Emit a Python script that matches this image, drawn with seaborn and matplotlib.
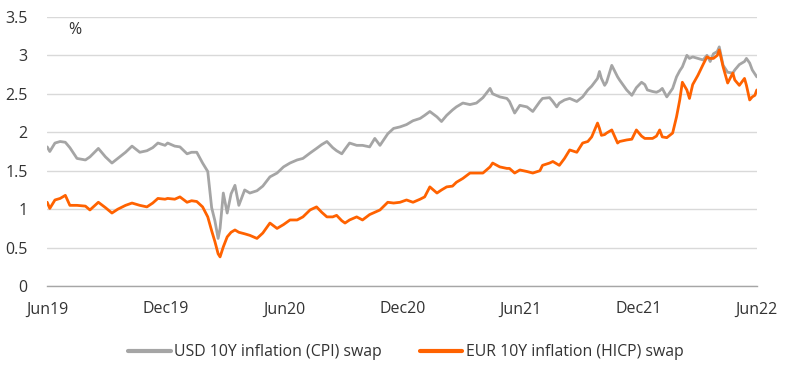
import matplotlib
matplotlib.use("Agg")
import matplotlib.pyplot as plt
import seaborn as sns
import pandas as pd
from matplotlib.lines import Line2D

dates = [
    "2019-06-01", "2019-06-05", "2019-06-13", "2019-06-21", "2019-06-29", "2019-07-06",
    "2019-07-17", "2019-07-30", "2019-08-06", "2019-08-19", "2019-08-30", "2019-09-09",
    "2019-09-18", "2019-09-30", "2019-10-10", "2019-10-22", "2019-11-02", "2019-11-11",
    "2019-11-19", "2019-11-30", "2019-12-04", "2019-12-15", "2019-12-23", "2020-01-03",
    "2020-01-10", "2020-01-18", "2020-01-27", "2020-02-04", "2020-02-10", "2020-02-15",
    "2020-02-20", "2020-02-23", "2020-02-28", "2020-03-05", "2020-03-11", "2020-03-17",
    "2020-03-23", "2020-04-01", "2020-04-09", "2020-04-20", "2020-04-29", "2020-05-10",
    "2020-05-21", "2020-05-31", "2020-06-10", "2020-06-21", "2020-06-30", "2020-07-11",
    "2020-07-21", "2020-07-29", "2020-08-06", "2020-08-15", "2020-08-21", "2020-08-29",
    "2020-09-03", "2020-09-10", "2020-09-21", "2020-09-30", "2020-10-11", "2020-10-19",
    "2020-10-27", "2020-11-08", "2020-11-17", "2020-11-27", "2020-12-07", "2020-12-17",
    "2020-12-28", "2021-01-04", "2021-01-12", "2021-01-23", "2021-01-30", "2021-02-07",
    "2021-02-16", "2021-02-22", "2021-03-04", "2021-03-15", "2021-03-25", "2021-04-04",
    "2021-04-15", "2021-04-19", "2021-04-30", "2021-05-11", "2021-05-15", "2021-05-23",
    "2021-05-31", "2021-06-11", "2021-06-20", "2021-07-01", "2021-07-05", "2021-07-16",
    "2021-07-21", "2021-07-27", "2021-07-31", "2021-08-08", "2021-08-16", "2021-08-27",
    "2021-09-05", "2021-09-13", "2021-09-19", "2021-09-28", "2021-10-01", "2021-10-04",
    "2021-10-09", "2021-10-12", "2021-10-20", "2021-10-29", "2021-11-01", "2021-11-12",
    "2021-11-20", "2021-11-27", "2021-12-05", "2021-12-10", "2021-12-14", "2021-12-22",
    "2021-12-28", "2022-01-02", "2022-01-06", "2022-01-13", "2022-01-22", "2022-01-28",
    "2022-02-02", "2022-02-06", "2022-02-13", "2022-02-17", "2022-02-22", "2022-03-02",
    "2022-03-10", "2022-03-16", "2022-03-21", "2022-03-26", "2022-04-01", "2022-04-04",
    "2022-04-10", "2022-04-17", "2022-04-25", "2022-04-28", "2022-05-05", "2022-05-13",
    "2022-05-16", "2022-05-21", "2022-05-25", "2022-05-29", "2022-06-01",
]

usd_swap = [
    1.81, 1.75, 1.86, 1.88, 1.87, 1.80,
    1.66, 1.64, 1.68, 1.79, 1.68, 1.60,
    1.66, 1.74, 1.82, 1.74, 1.76, 1.80,
    1.86, 1.83, 1.86, 1.82, 1.81, 1.72,
    1.74, 1.74, 1.60, 1.49, 1.02, 0.85,
    0.62, 0.75, 1.21, 0.95, 1.20, 1.31,
    1.05, 1.25, 1.21, 1.24, 1.30, 1.42,
    1.47, 1.55, 1.60, 1.64, 1.66, 1.73,
    1.79, 1.84, 1.88, 1.80, 1.76, 1.72,
    1.78, 1.86, 1.83, 1.83, 1.81, 1.92,
    1.83, 1.98, 2.05, 2.07, 2.10, 2.15,
    2.18, 2.22, 2.27, 2.20, 2.14, 2.22,
    2.29, 2.33, 2.38, 2.36, 2.38, 2.45,
    2.57, 2.50, 2.46, 2.44, 2.40, 2.25,
    2.35, 2.33, 2.27, 2.40, 2.44, 2.45,
    2.40, 2.33, 2.38, 2.42, 2.44, 2.40,
    2.46, 2.55, 2.60, 2.70, 2.79, 2.70,
    2.61, 2.65, 2.87, 2.72, 2.68, 2.55,
    2.48, 2.58, 2.65, 2.62, 2.55, 2.53,
    2.52, 2.54, 2.57, 2.46, 2.57, 2.72,
    2.80, 2.85, 3.00, 2.96, 2.98, 2.96,
    2.94, 3.00, 2.92, 3.02, 3.05, 3.11,
    2.87, 2.78, 2.77, 2.81, 2.88, 2.92,
    2.96, 2.90, 2.81, 2.76, 2.72,
]

eur_swap = [
    1.09, 1.01, 1.12, 1.14, 1.18, 1.05,
    1.05, 1.04, 0.99, 1.09, 1.02, 0.95,
    1.00, 1.05, 1.08, 1.05, 1.03, 1.08,
    1.14, 1.13, 1.14, 1.13, 1.16, 1.09,
    1.11, 1.10, 1.03, 0.90, 0.72, 0.58,
    0.42, 0.38, 0.51, 0.64, 0.70, 0.73,
    0.70, 0.68, 0.66, 0.62, 0.69, 0.82,
    0.75, 0.80, 0.86, 0.86, 0.90, 0.99,
    1.03, 0.96, 0.90, 0.90, 0.92, 0.85,
    0.82, 0.86, 0.90, 0.86, 0.93, 0.96,
    0.99, 1.09, 1.08, 1.09, 1.12, 1.09,
    1.13, 1.16, 1.29, 1.21, 1.25, 1.29,
    1.30, 1.35, 1.40, 1.47, 1.47, 1.47,
    1.55, 1.60, 1.55, 1.53, 1.53, 1.47,
    1.51, 1.49, 1.47, 1.50, 1.57, 1.60,
    1.62, 1.59, 1.57, 1.66, 1.77, 1.74,
    1.86, 1.88, 1.94, 2.12, 2.05, 1.96,
    1.97, 1.99, 2.03, 1.86, 1.88, 1.90,
    1.91, 2.03, 1.95, 1.92, 1.92, 1.92,
    1.95, 2.03, 1.94, 1.93, 1.99, 2.20,
    2.42, 2.65, 2.55, 2.44, 2.62, 2.74,
    2.88, 2.98, 2.96, 2.96, 3.00, 3.07,
    2.85, 2.64, 2.77, 2.68, 2.61, 2.70,
    2.61, 2.42, 2.46, 2.48, 2.55,
]

series_names = ["USD 10Y inflation (CPI) swap", "EUR 10Y inflation (HICP) swap"]
series_colors = ["#A5A5A5", "#FF6200"]
y_ticks = [0, 0.5, 1, 1.5, 2, 2.5, 3, 3.5]
y_tick_labels = ["0", "0.5", "1", "1.5", "2", "2.5", "3", "3.5"]
x_ticks = ["2019-06-01", "2019-12-01", "2020-06-01", "2020-12-01",
           "2021-06-01", "2021-12-01", "2022-06-01"]
x_tick_labels = ["Jun19", "Dec19", "Jun20", "Dec20", "Jun21", "Dec21", "Jun22"]

df = pd.DataFrame({
    "date": pd.to_datetime(dates * 2),
    "value": usd_swap + eur_swap,
    "series": [series_names[0]] * len(dates) + [series_names[1]] * len(dates),
})

sns.set_style("white")
plt.rcParams["font.family"] = ["Open Sans", "DejaVu Sans"]

fig = plt.figure(figsize=(8, 3.75), dpi=100)
ax = fig.add_axes([0.059, 0.237, 0.887, 0.718])

sns.lineplot(data=df, x="date", y="value", hue="series",
             palette=dict(zip(series_names, series_colors)),
             linewidth=2.0, ax=ax, legend=False)

ax.set_ylim(0, 3.5)
ax.set_xlim(pd.Timestamp(x_ticks[0]), pd.Timestamp(x_ticks[-1]))
ax.set_yticks(y_ticks)
ax.set_yticklabels(y_tick_labels)
ax.set_xticks(pd.to_datetime(x_ticks))
ax.set_xticklabels(x_tick_labels)
ax.set_xlabel("")
ax.set_ylabel("")

ax.grid(axis="y", color="#D9D9D9", linewidth=1.0)
ax.set_axisbelow(True)
for s in ["top", "right", "left"]:
    ax.spines[s].set_visible(False)
ax.spines["bottom"].set_color("#A6A6A6")
ax.spines["bottom"].set_linewidth(1.0)

ax.tick_params(axis="y", length=0, pad=14, labelsize=11.5, labelcolor="#333333")
ax.tick_params(axis="x", length=5, width=1, color="#A6A6A6", direction="out",
               pad=6, labelsize=11.5, labelcolor="#333333")

ax.text(0.029, 0.95, "%", transform=ax.transAxes, fontsize=11.5,
        color="#333333", va="center", ha="left")

handles = [Line2D([0], [0], color=c, linewidth=3) for c in series_colors]
fig.legend(handles, series_names, loc="center", bbox_to_anchor=(0.507, 0.06),
           ncol=2, frameon=False, fontsize=11.4, handlelength=2.7,
           handletextpad=0.2, columnspacing=2.4, labelcolor="#333333")

fig.savefig("out.png", dpi=100)
